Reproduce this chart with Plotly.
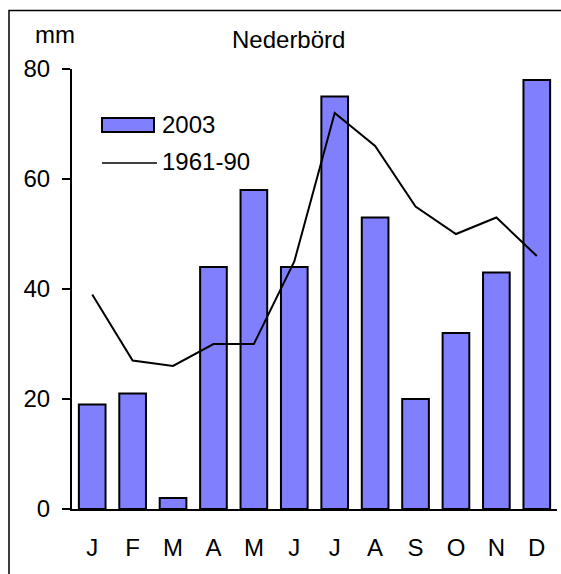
import plotly.graph_objects as go

# Monthly precipitation (mm)
months = ["J", "F", "M", "A", "M", "J", "J", "A", "S", "O", "N", "D"]
precip_2003 = [19, 21, 2, 44, 58, 44, 75, 53, 20, 32, 43, 78]
normal_1961_90 = [39, 27, 26, 30, 30, 45, 72, 66, 55, 50, 53, 46]
y_ticks = [0, 20, 40, 60, 80]

W, H = 561, 574
L, R, T, B = 72, 4, 69, 65
PW, PH = W - L - R, H - T - B

FONT = "Liberation Sans, Arial, sans-serif"
FS = 24


def px(x):
    return (x - L) / PW


def py(y):
    return (H - B - y) / PH


x_idx = list(range(len(months)))

fig = go.Figure()
fig.add_trace(go.Bar(
    x=x_idx, y=precip_2003, name="2003",
    marker=dict(color="#8080FF", line=dict(color="black", width=2)),
    showlegend=False,
))
fig.add_trace(go.Scatter(
    x=x_idx, y=normal_1961_90, name="1961-90", mode="lines",
    line=dict(color="black", width=2), showlegend=False,
))

shapes = [
    # outer frame
    dict(type="rect", xref="paper", yref="paper",
         x0=px(9), x1=px(600), y0=py(620), y1=py(10.5),
         line=dict(color="black", width=1.5), fillcolor="rgba(0,0,0,0)", layer="below"),
    # legend keys
    dict(type="rect", xref="paper", yref="paper",
         x0=px(102), x1=px(154), y0=py(132), y1=py(118),
         line=dict(color="black", width=2), fillcolor="#8080FF"),
    dict(type="line", xref="paper", yref="paper",
         x0=px(102), x1=px(157), y0=py(163), y1=py(163),
         line=dict(color="black", width=1.5)),
]

annotations = [
    dict(text="Nederbörd", xref="paper", yref="paper", x=px(288), y=py(39),
         xanchor="center", yanchor="middle", showarrow=False,
         font=dict(size=FS, color="black", family=FONT)),
    dict(text="mm", xref="paper", yref="paper", x=px(55), y=py(35),
         xanchor="center", yanchor="middle", showarrow=False,
         font=dict(size=FS, color="black", family=FONT)),
    dict(text="2003", xref="paper", yref="paper", x=px(160), y=py(124),
         xanchor="left", yanchor="middle", showarrow=False,
         font=dict(size=FS, color="black", family=FONT)),
    dict(text="1961-90", xref="paper", yref="paper", x=px(160), y=py(162),
         xanchor="left", yanchor="middle", showarrow=False,
         font=dict(size=FS, color="black", family=FONT)),
]

fig.update_layout(
    width=W, height=H,
    margin=dict(l=L, r=R, t=T, b=B),
    paper_bgcolor="white", plot_bgcolor="white",
    bargap=0.34,
    shapes=shapes, annotations=annotations,
    font=dict(family=FONT, size=FS, color="black"),
)
fig.update_xaxes(
    range=[-0.5, 11.5], tickmode="array", tickvals=x_idx, ticktext=months,
    showline=True, linecolor="black", linewidth=2, ticks="",
    ticklabelstandoff=16, showgrid=False, zeroline=False,
    tickfont=dict(size=FS),
)
fig.update_yaxes(
    range=[0, 80], tickmode="array", tickvals=y_ticks,
    showline=True, linecolor="black", linewidth=2,
    ticks="outside", ticklen=8, tickwidth=2, tickcolor="black",
    ticklabelstandoff=7, showgrid=False, zeroline=False,
    tickfont=dict(size=FS),
)

fig.write_html("out.html")
